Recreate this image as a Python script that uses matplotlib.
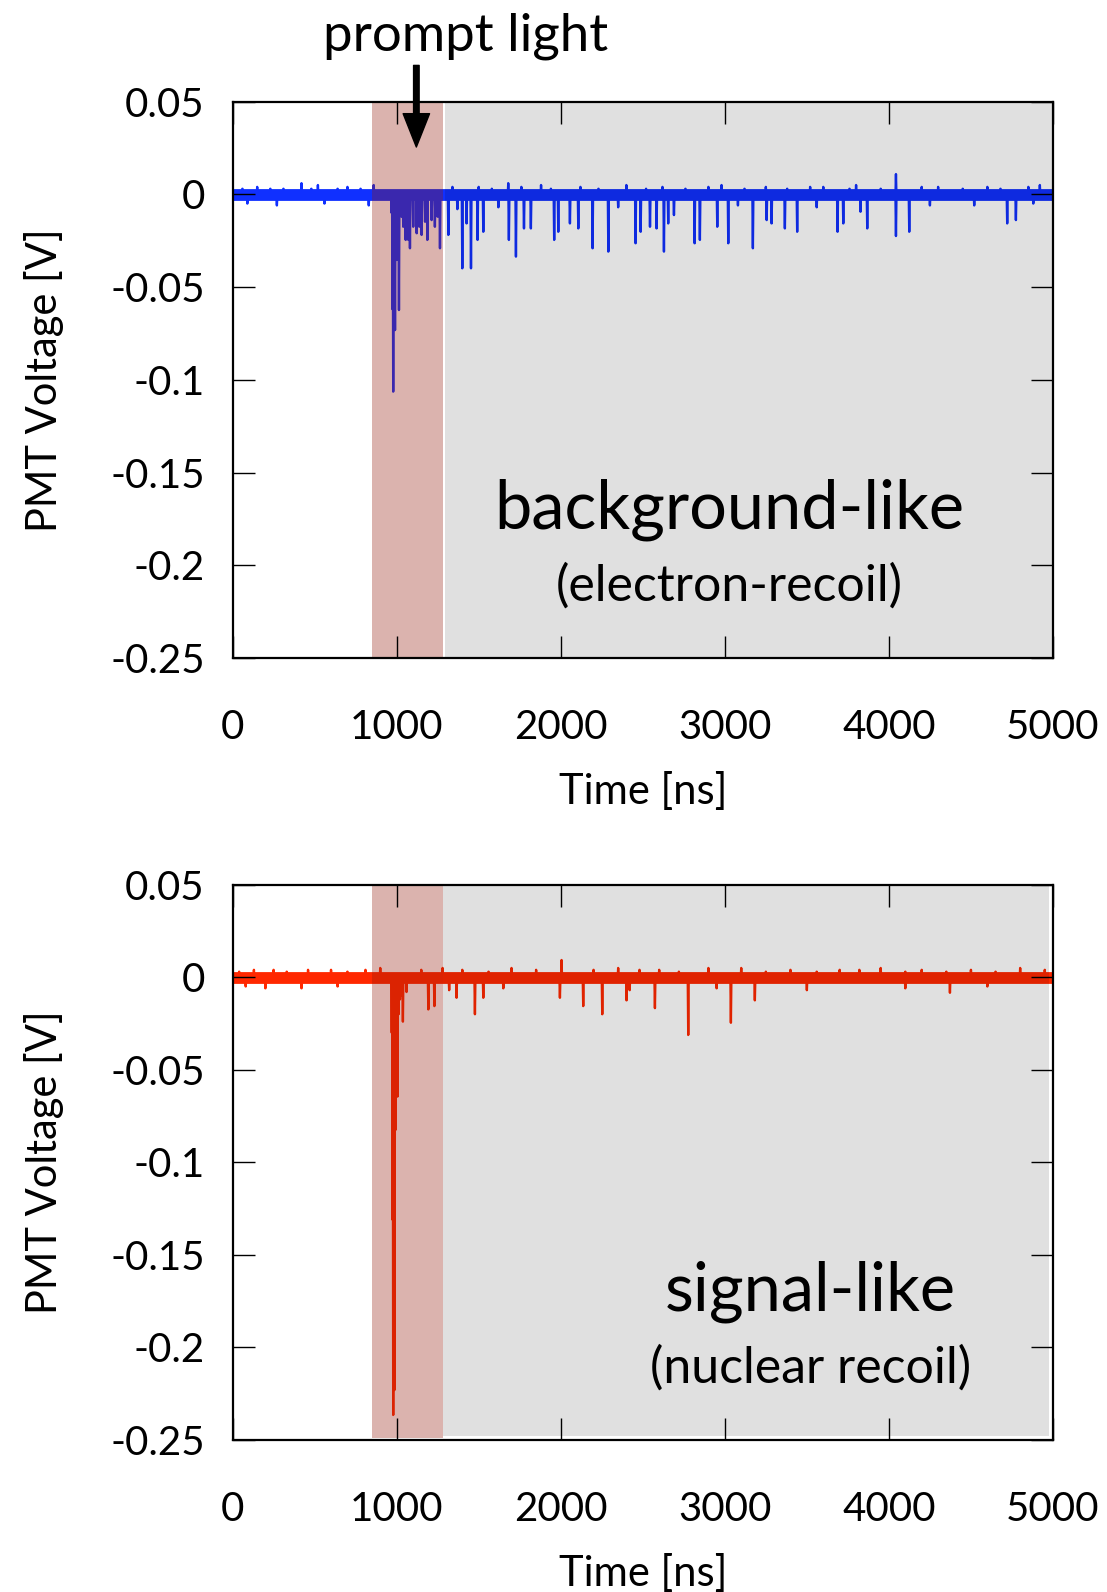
import numpy as np
import matplotlib.pyplot as plt

plt.rcParams['font.family'] = ['Lato', 'DejaVu Sans']

# background-like (electron recoil) trace: spike times [ns] and depths [V]
bg_base = -0.0006
bg_t = [969, 975, 979, 990, 1000, 1014, 1030, 1040, 1055, 1071, 1081, 1101, 1122,
        1138, 1152, 1173, 1187, 1213, 1233, 1250, 1264, 1315, 1400, 1426, 1453, 1493,
        1528, 1684, 1727, 1776, 1818, 1960, 1985, 2056, 2107, 2194, 2290, 2456, 2487,
        2544, 2584, 2629, 2655, 2690, 2816, 2848, 2954, 3021, 3171, 3255, 3285, 3366,
        3441, 3687, 3722, 3827, 3868, 4043, 4124, 4721, 4774]
bg_v = [-0.010, -0.062, -0.1064, -0.0732, -0.0354, -0.0624, -0.0121, -0.0175, -0.0246,
        -0.0246, -0.0291, -0.0175, -0.0210, -0.0175, -0.0219, -0.0148, -0.0246, -0.0139,
        -0.0175, -0.0121, -0.0291, -0.0219, -0.0399, -0.0157, -0.0399, -0.0246, -0.0202,
        -0.0246, -0.0336, -0.0184, -0.0184, -0.0246, -0.0202, -0.0157, -0.0184, -0.0291,
        -0.0309, -0.0264, -0.0202, -0.0175, -0.0184, -0.0309, -0.0157, -0.0112, -0.0264,
        -0.0246, -0.0175, -0.0264, -0.0291, -0.0139, -0.0157, -0.0184, -0.0202, -0.0202,
        -0.0157, -0.0094, -0.0184, -0.0225, -0.0202, -0.0157, -0.0139]
# small fuzz on the baseline (read as ticks above / below the noise band)
bg_fuzz_t = [60, 150, 230, 310, 420, 480, 520, 640, 700, 780, 860, 1340, 1500, 1580,
             1680, 1760, 1880, 1940, 2120, 2230, 2400, 2520, 2620, 2760, 2900, 2980,
             3120, 3250, 3380, 3520, 3600, 3760, 3800, 3950, 4043, 4200, 4300, 4450,
             4600, 4680, 4850, 4920, 90, 270, 560, 830, 1370, 1620, 2350, 3080, 3560,
             4250, 4520, 4880]
bg_fuzz_v = [0.003, 0.004, 0.003, 0.003, 0.006, 0.003, 0.005, 0.003, 0.004, 0.003,
             0.005, 0.004, 0.004, 0.003, 0.006, 0.004, 0.005, 0.003, 0.004, 0.003,
             0.005, 0.003, 0.004, 0.003, 0.004, 0.005, 0.003, 0.004, 0.003, 0.004,
             0.004, 0.003, 0.005, 0.003, 0.0109, 0.004, 0.004, 0.003, 0.004, 0.003,
             0.004, 0.005, -0.005, -0.006, -0.005, -0.006, -0.008, -0.007, -0.007,
             -0.006, -0.007, -0.006, -0.006, -0.005]

# signal-like (nuclear recoil) trace
sg_base = -0.0006
sg_t = [970, 975, 979, 987, 993, 998, 1005, 1012, 1020, 1030, 1038, 1060, 1193, 1230,
        1365, 1477, 1528, 1995, 2137, 2253, 2401, 2574, 2777, 3037, 3183, 4372]
sg_v = [-0.030, -0.131, -0.2365, -0.223, -0.0825, -0.0357, -0.0645, -0.0200, -0.0120,
        -0.0100, -0.0240, -0.0080, -0.0174, -0.0156, -0.0111, -0.0200, -0.0111, -0.0111,
        -0.0156, -0.0200, -0.0125, -0.0167, -0.0312, -0.0246, -0.0125, -0.0084]
sg_fuzz_t = [40, 130, 250, 330, 460, 600, 700, 810, 900, 1150, 1280, 1400, 1560, 1700,
             1850, 2005, 2200, 2350, 2480, 2600, 2720, 2900, 3100, 3250, 3400, 3560,
             3700, 3820, 3950, 4100, 4200, 4350, 4500, 4650, 4800, 4950, 80, 200, 420,
             640, 1320, 1650, 2420, 2950, 3500, 4100, 4600]
sg_fuzz_v = [0.003, 0.004, 0.004, 0.003, 0.004, 0.004, 0.003, 0.004, 0.005, 0.004,
             0.005, 0.004, 0.003, 0.005, 0.004, 0.0093, 0.004, 0.005, 0.004, 0.004,
             0.003, 0.005, 0.005, 0.003, 0.004, 0.003, 0.004, 0.004, 0.005, 0.003,
             0.004, 0.003, 0.004, 0.003, 0.005, 0.004, -0.005, -0.006, -0.006, -0.005,
             -0.007, -0.006, -0.007, -0.006, -0.007, -0.006, -0.005]

x_ticks = [0, 1000, 2000, 3000, 4000, 5000]
y_ticks = [0.05, 0, -0.05, -0.1, -0.15, -0.2, -0.25]
y_labels = ['0.05', '0', '-0.05', '-0.1', '-0.15', '-0.2', '-0.25']
prompt_win = (848, 1285)


def build_trace(base, t_list, v_list):
    pts = sorted(zip(t_list, v_list))
    xs = [0]
    ys = [base]
    for t, v in pts:
        xs += [t - 3, t, t + 3]
        ys += [base, v, base]
    xs.append(5000)
    ys.append(base)
    return np.array(xs), np.array(ys)


fig = plt.figure(figsize=(11.07, 15.92), dpi=100)
ax1 = fig.add_axes([0.2101, 0.5867, 0.7411, 0.3495])
ax2 = fig.add_axes([0.2101, 0.0955, 0.7411, 0.3488])

# (axes, colour, baseline, times, values, title, subtitle, text x, gap, grey end, grey ymin, red ymin)
panels = [
    (ax1, '#1030ff', bg_base, bg_t + bg_fuzz_t, bg_v + bg_fuzz_v,
     'background-like', '(electron-recoil)', 3030, 8, 5000, 0.0, 0.0),
    (ax2, '#ff2800', sg_base, sg_t + sg_fuzz_t, sg_v + sg_fuzz_v,
     'signal-like', '(nuclear recoil)', 3520, 0, 4975, 0.008, 0.004),
]

for ax, col, base, ts, vs, title, sub, tx, gap, gend, gymin, rymin in panels:
    xs, ys = build_trace(base, ts, vs)
    ax.plot([0, 5000], [base, base], color=col, lw=8.5, solid_capstyle='butt', zorder=2)
    ax.plot(xs, ys, color=col, lw=1.7, zorder=2)

    ax.axvspan(prompt_win[0], prompt_win[1], ymin=rymin, color=(0.573, 0.097, 0.036),
               alpha=0.33, lw=0, zorder=3)
    ax.axvspan(prompt_win[1] + gap, gend, ymin=gymin, color='black', alpha=0.12, lw=0, zorder=3)

    ax.set_xlim(0, 5000)
    ax.set_ylim(-0.25, 0.05)
    ax.set_xticks(x_ticks)
    ax.set_yticks(y_ticks)
    ax.set_yticklabels(y_labels)
    ax.tick_params(direction='in', length=16, width=1.0, labelsize=29,
                   top=True, right=True)
    ax.tick_params(axis='x', pad=37)
    ax.tick_params(axis='y', pad=20)
    for s in ax.spines.values():
        s.set_linewidth(1.6)
        s.set_zorder(5)
    ax.xaxis.set_zorder(5)
    ax.yaxis.set_zorder(5)

    ax.set_xlabel('Time [ns]', fontsize=30)
    ax.set_ylabel('PMT Voltage [V]', fontsize=30)
    ax.xaxis.set_label_coords(0.5, -0.205)
    ax.yaxis.set_label_coords(-0.205, 0.5)

    ax.text(tx, -0.170, title, fontsize=48, ha='center', va='center', zorder=6)
    ax.text(tx, -0.2115, sub, fontsize=36, ha='center', va='center', zorder=6)

ax1.annotate('', xy=(1120, 0.0255), xytext=(1120, 0.0695),
             arrowprops=dict(width=4, headwidth=19, headlength=24, color='black', shrink=0),
             annotation_clip=False, zorder=6)
ax1.text(1417, 0.0850, 'prompt light', fontsize=38, ha='center', va='center', clip_on=False)

fig.savefig('out.png', dpi=100)
